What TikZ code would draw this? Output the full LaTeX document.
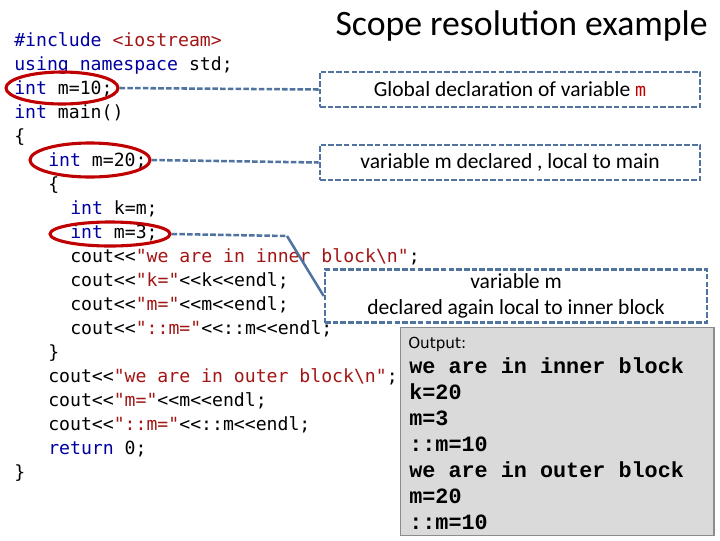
\documentclass[tikz,border=0pt]{standalone}
\usepackage{fontspec}
\usetikzlibrary{shapes.geometric}
\setmainfont{Carlito}
\newfontfamily\codefont{DejaVu Sans Mono}
\newfontfamily\outfont{Liberation Mono}
\newfontfamily\notefont{DejaVu Sans}
\definecolor{kwblue}{RGB}{0,0,160}
\definecolor{strred}{RGB}{163,21,21}
\definecolor{ovalred}{RGB}{192,0,0}
\definecolor{linkblue}{RGB}{80,115,160}
\definecolor{outgray}{RGB}{218,218,218}
\definecolor{outedge}{RGB}{140,140,140}
\newcommand{\kwtxt}[1]{\textcolor{kwblue}{#1}}
\newcommand{\strtxt}[1]{\textcolor{strred}{#1}}

\begin{document}
\begin{tikzpicture}[x=0.025cm, y=-0.025cm,
  codeline/.style={anchor=base west, inner sep=0, font=\codefont\fontsize{12.9}{15}\selectfont},
  oval/.style={ellipse, draw=ovalred, line width=2.2pt},
  notebox/.style={draw=linkblue, line width=1.8pt, dash pattern=on 4pt off 1.5pt,
    font=\fontsize{15.3}{18}\selectfont, align=center},
  link/.style={draw=linkblue, line width=1.8pt, dash pattern=on 4pt off 1.5pt},
  outbox/.style={draw=outedge, fill=outgray, line width=1pt},
  outline/.style={anchor=base west, inner sep=0, font=\outfont\bfseries\fontsize{15.5}{17}\selectfont}]
\useasboundingbox (0,0) rectangle (720,540);

% Title
\node[anchor=base east, inner sep=0, font=\fontsize{25.4}{28}\selectfont] (title) at (708,35) {Scope resolution example};

% Program
\node[codeline] (l1) at (14,46) {\kwtxt{\#include} \strtxt{<iostream>}};
\node[codeline] (l2) at (14,70) {\kwtxt{using namespace} std;};
\node[codeline] (l3) at (14,94) {\kwtxt{int} m=10;};
\node[codeline] (l4) at (14,118) {\kwtxt{int} main()};
\node[codeline] (l5) at (14,142) {\{};
\node[codeline] (l6) at (48,166) {\kwtxt{int} m=20;};
\node[codeline] (l7) at (48,190) {\{};
\node[codeline] (l8) at (70,214) {\kwtxt{int} k=m;};
\node[codeline] (l9) at (70,238) {\kwtxt{int} m=3;};
\node[codeline] (l10) at (70,262) {cout<<\strtxt{"we are in inner block\textbackslash n"};};
\node[codeline] (l11) at (70,286) {cout<<\strtxt{"k="}<<k<<endl;};
\node[codeline] (l12) at (70,310) {cout<<\strtxt{"m="}<<m<<endl;};
\node[codeline] (l13) at (70,334) {cout<<\strtxt{"::m="}<<::m<<endl;};
\node[codeline] (l14) at (48,358) {\}};
\node[codeline] (l15) at (48,382) {cout<<\strtxt{"we are in outer block\textbackslash n"};};
\node[codeline] (l16) at (48,406) {cout<<\strtxt{"m="}<<m<<endl;};
\node[codeline] (l17) at (48,430) {cout<<\strtxt{"::m="}<<::m<<endl;};
\node[codeline] (l18) at (48,454) {\kwtxt{return} 0;};
\node[codeline] (l19) at (14,478) {\}};

% Red ovals
\node[oval, minimum width=2.8cm, minimum height=0.8cm] (oval1) at (62,88) {};
\node[oval, minimum width=3cm, minimum height=0.85cm] (oval2) at (90,160) {};
\node[oval, minimum width=3cm, minimum height=0.6cm] (oval3) at (110,234) {};

% Notes
\node[notebox, minimum width=9.5cm, minimum height=0.875cm] (b1) at (510,89.5)
  {Global declaration of variable \textcolor{ovalred}{\codefont\fontsize{13}{15}\selectfont m}};
\node[notebox, minimum width=9.5cm, minimum height=0.875cm] (b2) at (510,162.5)
  {variable m declared , local to main};
\node[notebox, minimum width=9.55cm, minimum height=1.25cm] (b3) at (516,296)
  {variable m\\declared again local to inner block};

% Connectors
\coordinate (bend) at (287,236);
\draw[link] (oval1.east) -- (b1.west);
\draw[link] (oval2.east) -- (b2.west);
\draw[link] (oval3.east) -- (bend);
\draw[draw=linkblue, line width=1.8pt] (bend) -- (b3.west);

% Output
\node[outbox, anchor=north west, minimum width=7.825cm, minimum height=5.2cm] (out) at (400,327) {};
\node[anchor=base west, inner sep=0, font=\notefont\fontsize{10.8}{12}\selectfont] (outtitle) at (408,348) {Output:};
\foreach \txt [count=\i] in {we are in inner block, k=20, m=3, ::m=10, we are in outer block, m=20, ::m=10}
  \node[outline] (out\i) at (409,347+26*\i) {\txt};
\end{tikzpicture}
\end{document}
